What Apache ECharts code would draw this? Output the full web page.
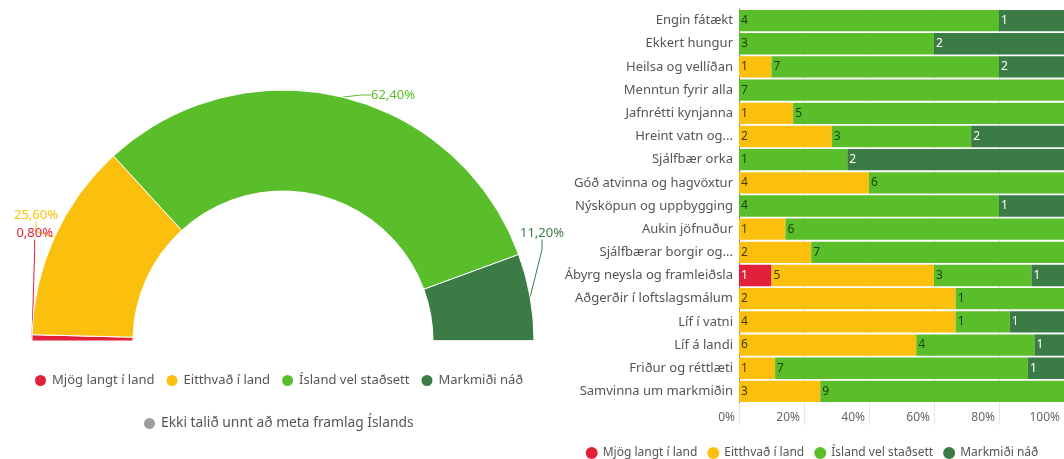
<!DOCTYPE html>
<html lang="is">
<head>
<meta charset="utf-8">
<title>Heimsmarkmiðin - staða Íslands</title>
<script src="https://cdn.jsdelivr.net/npm/echarts@6/dist/echarts.min.js"></script>
<style>
    body { margin: 0; background: #fff; }
    #wrap { position: relative; width: 1064px; height: 459px; }
    #gauge { position: absolute; left: 0; top: 0; width: 575px; height: 459px; }
    #bars { position: absolute; left: 560px; top: 0; width: 504px; height: 459px; z-index: 2; }
</style>
</head>
<body>
<div id="wrap">
    <div id="gauge"></div>
    <div id="bars"></div>
</div>
<script>
    // stöðumat og litir
    var stada = ['Mjög langt í land', 'Eitthvað í land', 'Ísland vel staðsett', 'Markmiði náð'];
    var ekkiMetid = 'Ekki talið unnt að meta framlag Íslands';
    var litir = ['#e2203a', '#fbc00e', '#59be2a', '#3b7b45'];
    var grar = '#9e9e9e';

    // hálfhringur: hlutfall allra undirmarkmiða (%)
    var hlutfall = [0.8, 25.6, 62.4, 11.2];

    // súlurit: fjöldi undirmarkmiða eftir markmiðum
    var markmid = ['Engin fátækt', 'Ekkert hungur', 'Heilsa og vellíðan', 'Menntun fyrir alla',
        'Jafnrétti kynjanna', 'Hreint vatn og...', 'Sjálfbær orka', 'Góð atvinna og hagvöxtur',
        'Nýsköpun og uppbygging', 'Aukin jöfnuður', 'Sjálfbærar borgir og...', 'Ábyrg neysla og framleiðsla',
        'Aðgerðir í loftslagsmálum', 'Líf í vatni', 'Líf á landi', 'Friður og réttlæti', 'Samvinna um markmiðin'];
    var mjogLangt   = [0, 0, 0, 0, 0, 0, 0, 0, 0, 0, 0, 1, 0, 0, 0, 0, 0];
    var eitthvad    = [0, 0, 1, 0, 1, 2, 0, 4, 0, 1, 2, 5, 2, 4, 6, 1, 3];
    var velStadsett = [4, 3, 7, 7, 5, 3, 1, 6, 4, 6, 7, 3, 1, 1, 4, 7, 9];
    var nad         = [1, 2, 2, 0, 0, 2, 2, 0, 1, 0, 0, 1, 0, 1, 1, 1, 0];

    var leturgerd = '"Noto Sans", sans-serif';

    // ---------- hálfhringur ----------
    var gaugeChart = echarts.init(document.getElementById('gauge'));
    var pieData = [];
    var alls = 0;
    for (var i = 0; i < hlutfall.length; i++) {
        alls += hlutfall[i];
        pieData.push({
            name: stada[i],
            value: hlutfall[i],
            itemStyle: { color: litir[i] },
            label: { color: litir[i] },
            labelLine: { lineStyle: { color: litir[i] } }
        });
    }
    pieData.push({ name: ekkiMetid, value: 0, itemStyle: { color: grar }, label: { show: false }, labelLine: { show: false } });
    // neðri helmingur ósýnilegur
    pieData.push({
        name: '__falinn', value: alls,
        itemStyle: { color: 'none', borderWidth: 0 },
        label: { show: false }, labelLine: { show: false },
        emphasis: { disabled: true }, tooltip: { show: false }
    });

    // staðsetning merkimiða eins og í fyrirmynd (x, y, jöfnun)
    var merkiStadur = [
        { x: 53, y: 233, align: 'right' },
        { x: 58, y: 215, align: 'right' },
        { x: 371, y: 95, align: 'left' },
        { x: 520, y: 233, align: 'left' }
    ];

    var legendStyle = {
        icon: 'circle', itemWidth: 13, itemHeight: 13, itemGap: 10,
        textStyle: { fontFamily: leturgerd, fontSize: 13, color: '#555' }
    };

    gaugeChart.setOption({
        animation: false,
        legend: [
            Object.assign({ data: stada, left: 28, top: 368 }, legendStyle),
            Object.assign({}, legendStyle, {
                data: [ekkiMetid], left: 137, top: 411,
                textStyle: { fontFamily: leturgerd, fontSize: 13.8, color: '#555' }
            })
        ],
        series: [{
            type: 'pie',
            center: [283, 341],
            radius: [150, 251],
            startAngle: 180,
            clockwise: true,
            avoidLabelOverlap: false,
            itemStyle: { borderColor: '#fff', borderWidth: 1 },
            label: {
                fontFamily: leturgerd, fontSize: 13, overflow: 'none',
                formatter: function (p) {
                    return (p.value / alls * 100).toFixed(2).replace('.', ',') + '%';
                }
            },
            labelLine: { length: 4, length2: 10, lineStyle: { width: 1 } },
            labelLayout: function (p) {
                var m = merkiStadur[p.dataIndex];
                if (!m) return {};
                return { x: m.x, y: m.y, align: m.align, verticalAlign: 'middle', hideOverlap: false };
            },
            data: pieData
        }]
    });

    // ---------- súlurit ----------
    var barChart = echarts.init(document.getElementById('bars'));
    var flokkar = [mjogLangt, eitthvad, velStadsett, nad];
    var textalitir = ['#fff', '#4a3a00', '#1f3f10', '#fff'];
    var barSeries = [];
    for (var s = 0; s < flokkar.length; s++) {
        var d = [];
        for (var j = 0; j < markmid.length; j++) {
            var samtals = mjogLangt[j] + eitthvad[j] + velStadsett[j] + nad[j];
            d.push({ value: flokkar[s][j] / samtals * 100, fjoldi: flokkar[s][j] });
        }
        barSeries.push({
            name: stada[s],
            type: 'bar',
            stack: 'alls',
            barCategoryGap: '8%',
            itemStyle: { color: litir[s] },
            label: {
                show: true, position: 'insideLeft', distance: 2,
                fontFamily: leturgerd, fontSize: 12, color: textalitir[s],
                formatter: function (p) { return p.data.fjoldi ? String(p.data.fjoldi) : ''; }
            },
            data: d
        });
    }

    barChart.setOption({
        animation: false,
        legend: Object.assign({}, legendStyle, {
            data: stada, left: 'center', top: 442, itemWidth: 12, itemHeight: 12,
            textStyle: { fontFamily: leturgerd, fontSize: 12, color: '#555' }
        }),
        grid: { left: 179, right: 0, top: 9, bottom: 56 },
        xAxis: {
            type: 'value', min: 0, max: 100, interval: 20,
            axisLine: { show: false },
            axisTick: { show: true, inside: false, length: 22, lineStyle: { color: '#e6e6e6' } },
            splitLine: { lineStyle: { color: '#e6e6e6' } },
            axisLabel: {
                fontFamily: leturgerd, fontSize: 12, color: '#666', margin: 9,
                align: 'right', padding: [0, 4, 0, 0],
                formatter: '{value}%'
            }
        },
        yAxis: {
            type: 'category', data: markmid, inverse: true,
            axisLine: { lineStyle: { color: '#777' } },
            axisTick: { show: false },
            axisLabel: { fontFamily: leturgerd, fontSize: 13, color: '#555', margin: 6 }
        },
        series: barSeries
    });
</script>
</body>
</html>
